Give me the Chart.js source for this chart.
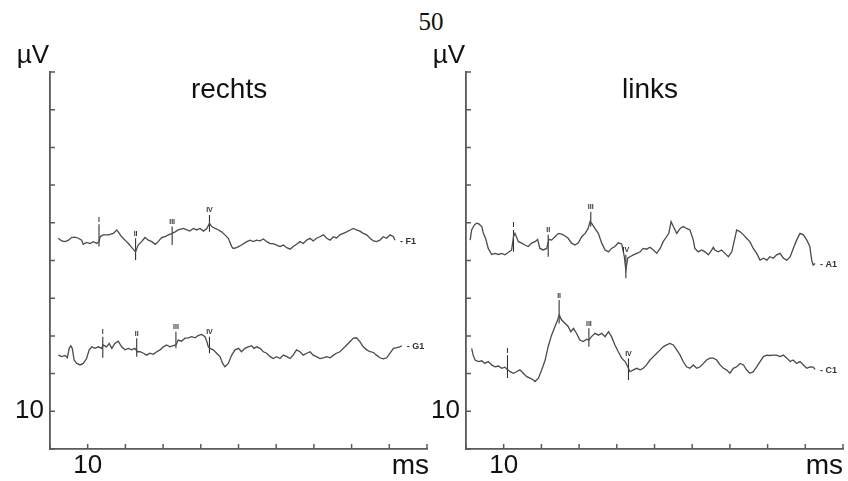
<!DOCTYPE html>
<html>
<head>
<meta charset="utf-8">
<script src="https://cdn.jsdelivr.net/npm/chart.js@4.4.1/dist/chart.umd.min.js"></script>
<style>
  body { margin: 0; background: #fff; }
  #page { position: relative; width: 848px; height: 481px; overflow: hidden; background: #fff; }
  #pageNo { position: absolute; left: 431px; top: 9px; transform: translateX(-50%);
            font: 25px/25px "Liberation Serif", "Times New Roman", serif; color: #111; }
  canvas { position: absolute; top: 0; }
</style>
</head>
<body>
<div id="page">
  <div id="pageNo">50</div>
  <canvas id="rechts" width="440" height="481" style="left:0"></canvas>
  <canvas id="links" width="424" height="481" style="left:424px"></canvas>
</div>
<script>
// latency (ms axis units) / amplitude pairs of each recorded trace
const traceF1 = [[2.2,55.9],[3.1,55.2],[4.0,55.0],[4.9,55.4],[5.7,56.1],[6.6,56.2],[7.5,55.9],[8.4,55.4],[8.8,54.3],[9.7,54.8],[10.6,54.5],[11.5,55.0],[12.4,54.5],[13.0,55.0],[13.3,56.3],[14.1,56.8],[15.5,56.8],[16.8,57.2],[17.7,58.1],[18.1,57.6],[19.0,56.3],[19.9,55.4],[20.8,54.5],[21.7,53.4],[22.7,52.3],[23.4,54.1],[24.3,55.0],[25.2,56.1],[26.1,55.4],[27.0,55.0],[27.9,54.3],[28.7,55.0],[29.6,56.1],[30.5,56.3],[31.4,56.8],[32.4,57.2],[33.2,57.6],[34.0,58.1],[35.4,58.5],[36.3,58.1],[37.1,57.8],[38.0,58.5],[38.9,58.1],[39.8,58.5],[40.7,57.8],[41.6,58.5],[42.3,59.9],[42.9,59.0],[43.8,58.5],[44.7,58.1],[45.5,57.6],[46.4,56.8],[47.3,55.9],[48.2,53.7],[48.6,53.2],[49.5,53.4],[50.8,54.1],[52.2,55.0],[53.1,55.4],[53.9,55.0],[54.8,55.4],[55.7,55.2],[56.6,55.7],[57.5,55.0],[58.4,54.5],[59.2,54.5],[60.1,54.1],[61.0,53.7],[61.9,54.1],[62.8,53.4],[63.7,53.0],[64.5,53.7],[65.4,54.3],[66.3,55.0],[67.2,54.5],[68.1,55.4],[69.0,55.9],[69.8,55.2],[70.7,55.9],[71.6,56.3],[72.5,56.8],[73.4,55.9],[74.3,55.4],[75.2,56.3],[76.0,56.0],[76.9,56.8],[77.8,57.2],[78.7,57.6],[79.6,58.1],[80.5,58.5],[81.3,58.1],[82.2,57.8],[83.1,57.2],[84.0,56.8],[84.9,55.9],[85.8,55.2],[86.6,55.0],[87.5,55.4],[88.4,56.3],[89.3,55.9],[90.2,56.8],[91.1,56.3],[91.5,55.4]];

const traceG1 = [[2.2,24.9],[3.1,24.5],[4.0,24.8],[4.6,24.2],[5.1,26.7],[5.5,27.4],[5.9,26.7],[6.4,23.6],[7.1,22.7],[8.0,22.3],[8.8,22.7],[9.7,24.0],[10.4,26.3],[11.1,27.1],[11.9,26.7],[12.8,27.1],[13.7,26.7],[14.1,27.6],[15.0,27.1],[15.7,28.0],[16.4,26.7],[17.2,28.0],[18.1,28.6],[19.0,27.1],[19.9,26.3],[20.8,26.7],[21.7,26.3],[22.5,26.7],[23.2,25.8],[23.9,25.8],[24.8,25.4],[25.6,24.9],[26.5,25.4],[27.4,25.1],[28.3,25.8],[29.2,26.3],[30.1,27.1],[30.9,27.6],[31.8,27.1],[32.7,27.4],[33.4,27.6],[34.0,28.9],[34.9,28.6],[35.8,29.4],[36.7,29.5],[37.6,29.8],[38.5,29.5],[39.3,30.1],[40.2,30.4],[41.1,29.8],[41.6,28.5],[42.0,27.1],[42.4,26.7],[43.3,26.3],[44.2,25.4],[45.1,24.5],[45.8,22.7],[46.4,21.8],[47.3,22.7],[48.2,24.9],[49.1,26.3],[50.0,26.7],[50.8,25.8],[51.7,26.7],[52.6,27.1],[53.5,27.4],[54.1,26.7],[54.8,27.1],[55.7,26.7],[56.6,25.8],[57.5,25.4],[58.4,24.5],[59.2,24.0],[60.1,24.5],[61.0,24.0],[61.9,24.9],[62.8,24.5],[63.7,24.0],[64.5,24.9],[65.4,26.3],[66.3,25.8],[67.2,24.9],[68.1,25.4],[69.0,25.8],[69.8,24.9],[70.7,24.5],[71.6,24.0],[72.5,24.2],[73.4,24.5],[74.3,24.2],[75.2,24.9],[76.0,25.4],[76.9,25.8],[77.8,26.7],[78.7,27.6],[79.6,28.5],[80.5,29.4],[81.3,29.5],[82.2,28.5],[83.1,27.1],[84.0,26.3],[84.9,25.8],[85.8,25.6],[86.6,24.9],[87.5,24.2],[88.4,23.9],[89.3,24.2],[90.2,25.4],[91.1,26.7],[92.0,26.9],[92.8,27.1],[93.3,27.4]];

const traceA1 = [[1.1,55.4],[1.5,58.1],[2.2,59.4],[2.8,59.9],[3.4,59.7],[4.2,59.0],[4.6,57.2],[5.2,55.9],[5.9,53.2],[6.8,51.6],[7.7,51.9],[8.6,51.6],[9.5,51.9],[10.3,51.5],[11.2,52.1],[12.1,52.8],[12.6,56.3],[13.0,57.2],[13.9,55.0],[14.8,54.6],[15.6,54.1],[16.5,53.7],[17.4,54.6],[18.3,55.0],[19.0,55.6],[19.6,53.2],[20.5,52.8],[21.4,53.2],[22.0,55.6],[22.7,55.4],[23.6,56.3],[24.5,57.2],[25.4,57.0],[26.3,56.5],[27.1,55.9],[28.0,54.6],[28.9,54.1],[29.8,54.7],[30.7,56.3],[31.6,57.2],[32.4,58.5],[32.9,60.3],[33.3,59.9],[34.2,58.5],[35.1,57.2],[36.0,54.6],[36.9,52.8],[37.8,52.3],[38.6,53.2],[39.5,53.7],[40.4,54.7],[41.3,54.4],[42.0,51.0],[42.4,47.5],[42.9,50.6],[43.5,51.0],[44.4,51.5],[45.3,51.9],[46.2,52.3],[47.0,53.2],[47.9,53.0],[48.8,53.5],[49.7,52.8],[50.6,51.9],[51.5,53.2],[52.3,55.0],[53.2,56.3],[53.8,57.2],[54.4,60.3],[55.0,59.0],[55.9,57.2],[56.8,58.5],[57.6,59.0],[58.5,58.5],[59.4,58.1],[60.3,55.4],[60.7,53.2],[61.6,52.3],[62.5,52.8],[63.4,52.3],[64.3,51.5],[65.2,52.8],[65.6,53.5],[66.0,52.8],[66.9,52.3],[67.8,52.8],[68.7,51.9],[69.6,51.0],[70.5,52.3],[71.2,55.4],[71.8,58.1],[72.7,57.6],[73.6,56.8],[74.4,55.9],[75.3,55.0],[76.2,53.2],[77.1,51.9],[78.0,50.1],[78.9,50.6],[79.8,50.1],[80.6,51.0],[81.5,50.6],[82.4,51.5],[83.3,51.9],[84.2,50.6],[85.1,50.1],[86.0,51.0],[86.8,53.2],[87.7,55.4],[88.6,57.2],[89.5,56.8],[90.4,55.4],[91.2,53.7],[91.7,50.1],[92.1,48.8],[92.6,49.2]];

const traceC1 = [[1.5,26.7],[1.9,24.9],[2.4,23.6],[3.3,23.2],[4.2,23.4],[5.0,22.7],[5.9,23.2],[6.8,22.3],[7.7,21.8],[8.6,22.0],[9.5,21.4],[10.3,21.7],[11.0,21.1],[11.7,20.5],[12.6,20.1],[13.4,20.5],[14.3,21.0],[15.2,20.1],[16.1,19.2],[17.0,18.8],[17.9,18.3],[18.3,17.9],[19.2,18.8],[20.1,21.0],[21.0,23.6],[21.8,27.2],[22.7,30.2],[23.6,32.5],[24.3,34.2],[24.7,35.5],[24.9,35.1],[25.4,34.2],[26.3,33.3],[27.1,32.5],[27.8,31.1],[28.5,32.0],[29.3,30.7],[30.2,28.9],[31.1,28.5],[32.0,29.1],[32.6,28.9],[33.3,29.8],[34.2,30.7],[35.1,30.2],[36.0,30.7],[36.9,29.8],[37.8,31.1],[38.6,29.8],[39.5,27.6],[40.4,25.8],[41.3,24.1],[42.2,23.2],[42.9,21.8],[43.5,20.5],[44.4,21.0],[45.3,21.4],[46.2,21.0],[47.0,21.4],[47.9,22.3],[48.8,23.6],[49.7,24.5],[50.6,25.4],[51.5,26.3],[52.3,27.1],[53.2,27.6],[54.1,28.0],[55.0,27.6],[55.9,26.3],[56.8,24.9],[57.6,23.2],[58.5,21.8],[59.4,21.4],[60.3,22.3],[61.2,21.4],[62.1,21.8],[63.0,22.7],[63.8,23.6],[64.7,24.1],[65.6,24.1],[66.5,23.6],[67.4,22.3],[68.3,21.4],[69.1,21.0],[70.0,20.1],[70.9,21.4],[71.8,21.8],[72.7,22.7],[73.6,22.3],[74.4,21.0],[75.3,20.1],[76.2,20.5],[77.1,21.8],[78.0,23.2],[78.9,24.5],[79.8,24.9],[80.6,24.8],[81.5,24.9],[82.4,24.9],[83.3,24.5],[84.2,24.9],[85.1,24.1],[86.0,23.2],[86.8,23.6],[87.7,22.7],[88.6,23.2],[89.5,22.3],[90.4,21.4],[91.2,21.8],[92.1,21.7],[92.6,21.1]];

// wave markers I-IV: [latency, top, bottom]
const waveNames = ['I', 'II', 'III', 'IV'];
const marksF1 = [[13.0,59.6,53.7],[22.7,55.9,50.1],[32.4,59.0,54.1],[42.3,62.1,57.6]];
const marksG1 = [[14.0,29.8,24.2],[23.0,29.4,24.5],[33.4,31.1,26.7],[42.3,29.8,25.4]];
const marksA1 = [[12.6,58.1,52.3],[21.8,56.8,51.0],[33.1,62.9,59.0],[42.4,51.5,45.3]];
const marksC1 = [[11.0,24.9,18.8],[24.7,39.5,33.3],[32.6,32.0,27.1],[43.1,24.1,18.3]];

const axisTicks = [0, 10, 20, 30, 40, 50, 60, 70, 80, 90, 100];
const labelledTick = 10;

const sans = '"Liberation Sans", Arial, Helvetica, sans-serif';
const ink = '#111';
const axisColor = '#5a5a5a';
const traceColor = '#4a4a4a';

const panelDecor = {
  id: 'panelDecor',
  afterDraw(chart, args, opts) {
    const { ctx, chartArea: area, scales: { x, y } } = chart;
    ctx.save();

    // short tick marks pointing into the plot
    ctx.strokeStyle = axisColor;
    ctx.lineWidth = 1.5;
    ctx.beginPath();
    axisTicks.forEach(v => {
      const px = x.getPixelForValue(v);
      ctx.moveTo(px, area.bottom);
      ctx.lineTo(px, area.bottom - 5);
      const py = y.getPixelForValue(v);
      ctx.moveTo(area.left, py);
      ctx.lineTo(area.left + 5, py);
    });
    ctx.stroke();

    // units and panel title
    ctx.fillStyle = ink;
    ctx.textBaseline = 'alphabetic';
    ctx.font = '26px ' + sans;
    ctx.textAlign = 'right';
    ctx.fillText('\u00b5V', area.left - 1, 63);
    ctx.font = '28px ' + sans;
    ctx.fillText('ms', area.right + opts.msShift, 474);
    ctx.textAlign = 'center';
    ctx.fillText(opts.title, x.getPixelForValue(opts.titleAt), 98);

    // wave labels above each marker
    ctx.fillStyle = '#333';
    ctx.font = 'bold 7px ' + sans;
    ctx.textBaseline = 'bottom';
    opts.marks.forEach(set => set.forEach((m, i) => {
      ctx.fillText(waveNames[i], x.getPixelForValue(m[0]), y.getPixelForValue(m[1]) - 1);
    }));

    // channel names at the end of each trace
    ctx.font = 'bold 9px ' + sans;
    ctx.textAlign = 'left';
    ctx.textBaseline = 'middle';
    opts.names.forEach(n => {
      const last = n.trace[n.trace.length - 1];
      ctx.fillText('- ' + n.name, x.getPixelForValue(last[0]) + 5, y.getPixelForValue(last[1]) + 1);
    });
    ctx.restore();
  }
};

function traceSet(trace) {
  return {
    data: trace.map(p => ({ x: p[0], y: p[1] })),
    borderColor: traceColor,
    borderWidth: 1.3,
    pointRadius: 0,
    tension: 0
  };
}

function markSet(marks) {
  const pts = [];
  marks.forEach(m => {
    pts.push({ x: m[0], y: m[1] }, { x: m[0], y: m[2] }, { x: m[0], y: null });
  });
  return {
    data: pts,
    borderColor: '#333',
    borderWidth: 1.1,
    pointRadius: 0,
    spanGaps: false
  };
}

function axis(extra) {
  return Object.assign({
    type: 'linear',
    min: 0,
    max: 100,
    ticks: {
      stepSize: 10,
      autoSkip: false,
      maxRotation: 0,
      color: ink,
      font: { family: sans, size: 26 },
      callback: v => (Math.round(v) === labelledTick ? String(labelledTick) : '')
    },
    grid: { display: false, drawTicks: false },
    border: { display: true, color: axisColor, width: 1.8 }
  }, extra);
}

function panel(id, traces, marks, names, title, titleAt, yWidth, padRight, msShift) {
  const xAxis = axis({ afterFit: s => { s.height = 32; } });
  xAxis.ticks = Object.assign({}, xAxis.ticks, { padding: 1 });
  const yAxis = axis({ afterFit: s => { s.width = yWidth; } });
  yAxis.ticks = Object.assign({}, yAxis.ticks, { padding: 6 });

  return new Chart(document.getElementById(id), {
    type: 'line',
    data: { datasets: traces.map(traceSet).concat(marks.map(markSet)) },
    options: {
      responsive: false,
      animation: false,
      layout: { padding: { top: 72, right: padRight, left: 0, bottom: 0 } },
      scales: { x: xAxis, y: yAxis },
      plugins: {
        legend: { display: false },
        tooltip: { enabled: false },
        panelDecor: { title, titleAt, msShift, marks, names }
      }
    },
    plugins: [panelDecor]
  });
}

panel('rechts', [traceF1, traceG1], [marksF1, marksG1],
  [{ name: 'F1', trace: traceF1 }, { name: 'G1', trace: traceG1 }],
  'rechts', 47.5, 50, 13, 2);

panel('links', [traceA1, traceC1], [marksA1, marksC1],
  [{ name: 'A1', trace: traceA1 }, { name: 'C1', trace: traceC1 }],
  'links', 48.8, 42, 5, 0);
</script>
</body>
</html>
